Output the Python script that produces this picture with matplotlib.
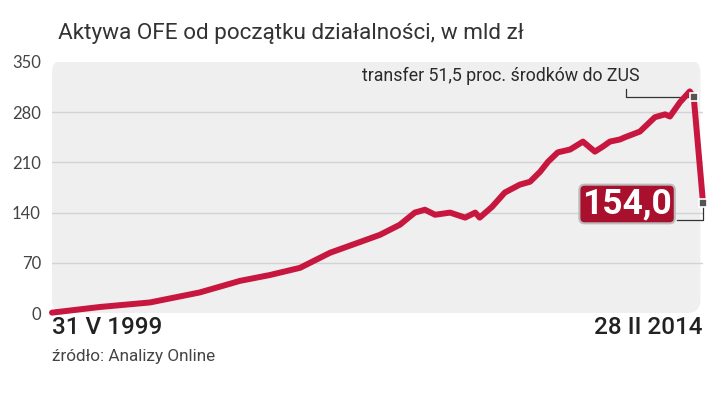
import matplotlib
matplotlib.use("Agg")
import matplotlib.pyplot as plt
from matplotlib.patches import FancyBboxPatch

# Aktywa OFE, mld zł (odczyt z wykresu)
years = [1999.41, 2000.50, 2001.63, 2002.76, 2003.67, 2004.35, 2005.03, 2005.71,
         2006.39, 2006.84, 2007.29, 2007.63, 2007.86, 2008.09, 2008.43, 2008.77,
         2009.00, 2009.10, 2009.38, 2009.67, 2010.01, 2010.24, 2010.47, 2010.65,
         2010.87, 2011.15, 2011.44, 2011.71, 2011.89, 2012.05, 2012.28, 2012.39,
         2012.73, 2013.07, 2013.30, 2013.41, 2013.64, 2013.86, 2013.95, 2014.16]
assets = [0.5, 8.4, 14.7, 28.7, 44.8, 53, 63, 84,
          99, 109, 123, 140, 144, 137, 140, 133,
          140, 133, 148, 168, 179, 183, 197, 211,
          224, 228, 239, 225, 232, 239, 242, 245,
          253, 273, 277, 274, 294, 309, 301, 154.0]
yticks = [0, 70, 140, 210, 280, 350]

red = "#c8173f"
font = ["Roboto", "DejaVu Sans"]

fig = plt.figure(figsize=(7.2, 3.99), dpi=100)
ax = fig.add_axes([52/720, 1-313/399, 651/720, 251/399])
ax.set_xlim(years[0], years[-1])
ax.set_ylim(0, 350)

bg = FancyBboxPatch((0, 0), 0.996, 1.01, boxstyle="round,pad=0,rounding_size=0.02",
                    transform=ax.transAxes, fc="#efefef", ec="none", zorder=0,
                    mutation_aspect=651/251)
ax.add_patch(bg)
for v in yticks[1:-1]:
    ax.plot([years[0], years[-1] - 0.03], [v, v], color="#d3d3d3", lw=1, zorder=1)

ax.plot(years, assets, color=red, lw=4.3, solid_capstyle="round",
        solid_joinstyle="round", clip_on=False, zorder=3)

for s in ax.spines.values():
    s.set_visible(False)
ax.set_xticks([])
ax.set_yticks(yticks)
ax.tick_params(axis="y", length=0, pad=8, labelsize=12, labelcolor="#444444")
for t in ax.get_yticklabels():
    t.set_family("Lato")

# markery i opisy
ax.plot([2013.95, 2014.16], [301, 154.0], ls="none", marker="s", ms=6,
        mfc="#555555", mec="white", mew=1.2, zorder=5, clip_on=False)
ax.plot([2012.41, 2012.41, 2013.95], [313, 301, 301], color="#333333", lw=0.9, zorder=2)
ax.plot([2014.16, 2014.16, 2013.57], [154, 130, 130], color="#333333", lw=0.9, zorder=2,
        clip_on=False)
ax.text(2012.73, 330, "transfer 51,5 proc. środków do ZUS", ha="right", va="center",
        fontsize=12.8, color="#2a2a2a", family=font)
ax.text(2012.44, 152, "154,0", ha="center", va="center", fontsize=25.5,
        fontweight="bold", color="white", family=font, zorder=6,
        bbox=dict(boxstyle="round,pad=0.08,rounding_size=0.15", fc="#a8102d",
                  ec="#bbbbbb", lw=1.5))

fig.text(58/720, 1-33/399, "Aktywa OFE od początku działalności, w mld zł",
         ha="left", va="center", fontsize=16.2, color="#333333", family=font)
fig.text(52/720, 1-328/399, "31 V 1999", ha="left", va="center", fontsize=17.5,
         fontweight="medium", color="#222222", family=font)
fig.text(703/720, 1-328/399, "28 II 2014", ha="right", va="center", fontsize=17.5,
         fontweight="medium", color="#222222", family=font)
fig.text(52/720, 1-357/399, "źródło: Analizy Online", ha="left", va="center",
         fontsize=12.3, color="#444444", family=font)

fig.savefig("out.png", dpi=100, facecolor="white")
